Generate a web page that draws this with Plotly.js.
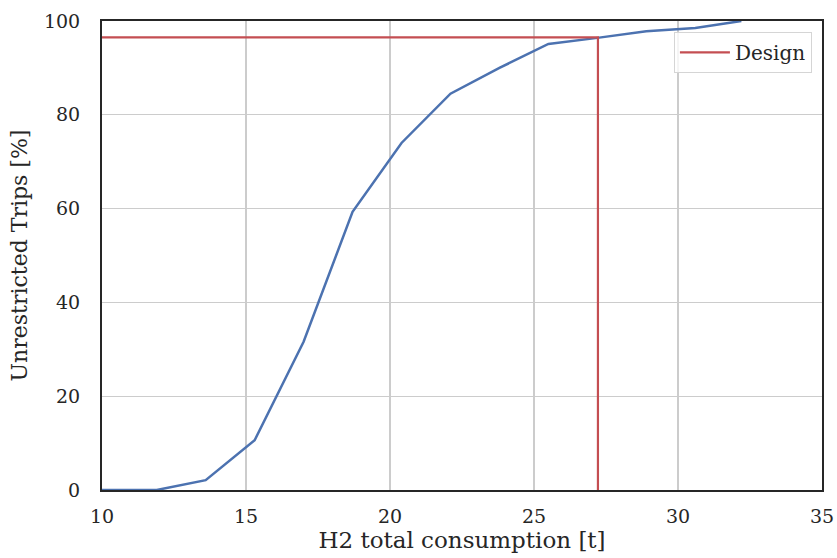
<!DOCTYPE html>
<html>
<head>
<meta charset="utf-8">
<script src="https://cdn.plot.ly/plotly-3.0.1.min.js"></script>
<style>html,body{margin:0;padding:0;background:#fff;}#chart{width:837px;height:558px;}</style>
</head>
<body>
<div id="chart"></div>
<script>
// H2 total consumption [t] vs unrestricted trips [%]
const consumption = [10.0, 11.9, 13.6, 15.3, 17.0, 18.7, 20.4, 22.1, 23.8, 25.5, 27.2, 28.9, 30.6, 32.2];
const unrestricted = [0.0, 0.0, 2.1, 10.6, 31.6, 59.3, 74.0, 84.5, 90.0, 95.1, 96.4, 97.8, 98.5, 100.0];
const designX = [10, 27.22, 27.22];
const designY = [96.5, 96.5, 0];
const xTicks = [10, 15, 20, 25, 30, 35];
const yTicks = [0, 20, 40, 60, 80, 100];

const font = {family: 'DejaVu Serif, serif', color: '#262626'};

const traces = [
  {x: consumption, y: unrestricted, mode: 'lines', line: {color: '#4C72B0', width: 2.5}, showlegend: false, name: 'Trips'},
  {x: designX, y: designY, mode: 'lines', line: {color: '#C44E52', width: 2.2}, name: 'Design'}
];

const layout = {
  width: 837, height: 558,
  margin: {l: 102, r: 15, t: 21, b: 68},
  paper_bgcolor: '#fff', plot_bgcolor: '#fff',
  font: Object.assign({size: 19}, font),
  xaxis: {
    range: [10, 35], tickvals: xTicks, ticktext: xTicks.map(String),
    showgrid: true, gridcolor: '#cccccc', gridwidth: 1.2, zeroline: false,
    showline: true, linecolor: '#262626', linewidth: 2, mirror: true,
    ticks: '', ticklen: 0, ticklabelstandoff: 8,
    tickfont: Object.assign({size: 19}, font),
    title: {text: 'H2 total consumption [t]', font: Object.assign({size: 23}, font), standoff: 6}
  },
  yaxis: {
    range: [0, 100], tickvals: yTicks, ticktext: yTicks.map(String),
    showgrid: true, gridcolor: '#cccccc', gridwidth: 1.2, zeroline: false,
    showline: true, linecolor: '#262626', linewidth: 2, mirror: true,
    ticks: '', ticklen: 0, ticklabelstandoff: 16,
    tickfont: Object.assign({size: 19}, font),
    title: {text: 'Unrestricted Trips [%]', font: Object.assign({size: 22}, font), standoff: 10}
  },
  legend: {
    x: 0.986, y: 0.977, xanchor: 'right', yanchor: 'top',
    bgcolor: 'rgba(255,255,255,0.8)', bordercolor: '#d5d5d5', borderwidth: 1,
    itemwidth: 50,
    font: Object.assign({size: 20}, font)
  }
};

Plotly.newPlot('chart', traces, layout, {displayModeBar: false, staticPlot: true});
</script>
</body>
</html>
